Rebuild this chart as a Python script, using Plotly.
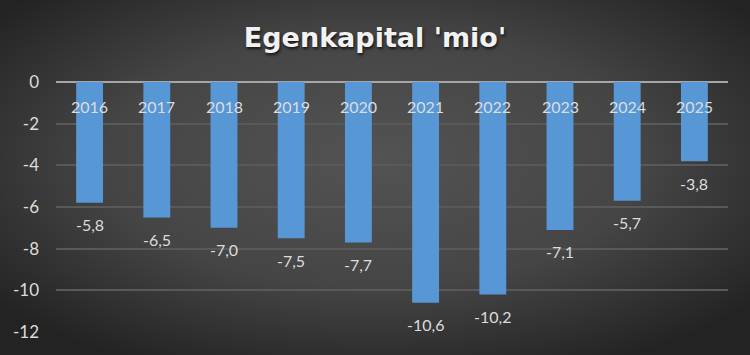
import base64
import plotly.graph_objects as go

years = ["2016", "2017", "2018", "2019", "2020", "2021", "2022", "2023", "2024", "2025"]
values = [-5.8, -6.5, -7.0, -7.5, -7.7, -10.6, -10.2, -7.1, -5.7, -3.8]
y_ticks = [0, -2, -4, -6, -8, -10, -12]
title_text = "Egenkapital 'mio'"

labels = [f"{v:.1f}".replace(".", ",") for v in values]
tick_text = [str(t) for t in y_ticks]

W, H = 750, 355
ml, mr, mt, mb = 56, 22, 82, 23
pw, ph = W - ml - mr, H - mt - mb

svg = f'''<svg xmlns="http://www.w3.org/2000/svg" width="{W}" height="{H}" viewBox="0 0 {W} {H}" preserveAspectRatio="none">
<defs><radialGradient id="g" cx="50%" cy="45%" r="65%" gradientUnits="objectBoundingBox">
<stop offset="0" stop-color="#535353"/><stop offset="0.55" stop-color="#454545"/><stop offset="1" stop-color="#232323"/>
</radialGradient></defs><rect width="{W}" height="{H}" fill="url(#g)"/></svg>'''
bg = "data:image/svg+xml;base64," + base64.b64encode(svg.encode()).decode()

fig = go.Figure(go.Bar(
    x=years, y=values,
    marker=dict(color="#5797d6", line=dict(width=0)),
    hoverinfo="skip",
))

lab_font = dict(family="Lato", size=16, color="#dcdcdc")
annotations = []
for i, (yr, v, lab) in enumerate(zip(years, values, labels)):
    annotations.append(dict(x=i, y=v, xref="x", yref="y", text=lab, showarrow=False,
                            yshift=-22, font=lab_font))
    annotations.append(dict(x=i, y=0, xref="x", yref="y", text=yr, showarrow=False,
                            yshift=-24, font=lab_font))

fig.update_layout(
    width=W, height=H,
    margin=dict(l=ml, r=mr, t=mt, b=mb),
    paper_bgcolor="#3a3a3a", plot_bgcolor="rgba(0,0,0,0)",
    bargap=0.6,
    showlegend=False,
    title=dict(text=f"<b>{title_text}</b>", x=0.5, xanchor="center", xref="container",
               y=1 - 38 / H, yanchor="middle", yref="container",
               font=dict(family="DejaVu Sans", size=27, color="#f2f2f2",
                         shadow="1px 2px 3px rgba(0,0,0,0.7)")),
    xaxis=dict(type="category", categoryorder="array", categoryarray=years,
               range=[-0.5, len(years) - 0.5], autorange=False,
               showticklabels=False, showgrid=False, zeroline=False, showline=False),
    yaxis=dict(range=[-12, 0], autorange=False, tickvals=y_ticks, ticktext=tick_text,
               showgrid=True, gridcolor="#595959", gridwidth=1.5,
               zeroline=True, zerolinecolor="#a6a6a6", zerolinewidth=2,
               tickfont=dict(family="Lato", size=17, color="#dcdcdc"),
               ticklabelstandoff=16, showline=False),
    images=[dict(source=bg, xref="paper", yref="paper", x=-ml / pw, y=1 + mt / ph,
                 sizex=W / pw, sizey=H / ph, xanchor="left", yanchor="top",
                 sizing="stretch", layer="below")],
    annotations=annotations,
)

fig.write_html("out.html")
